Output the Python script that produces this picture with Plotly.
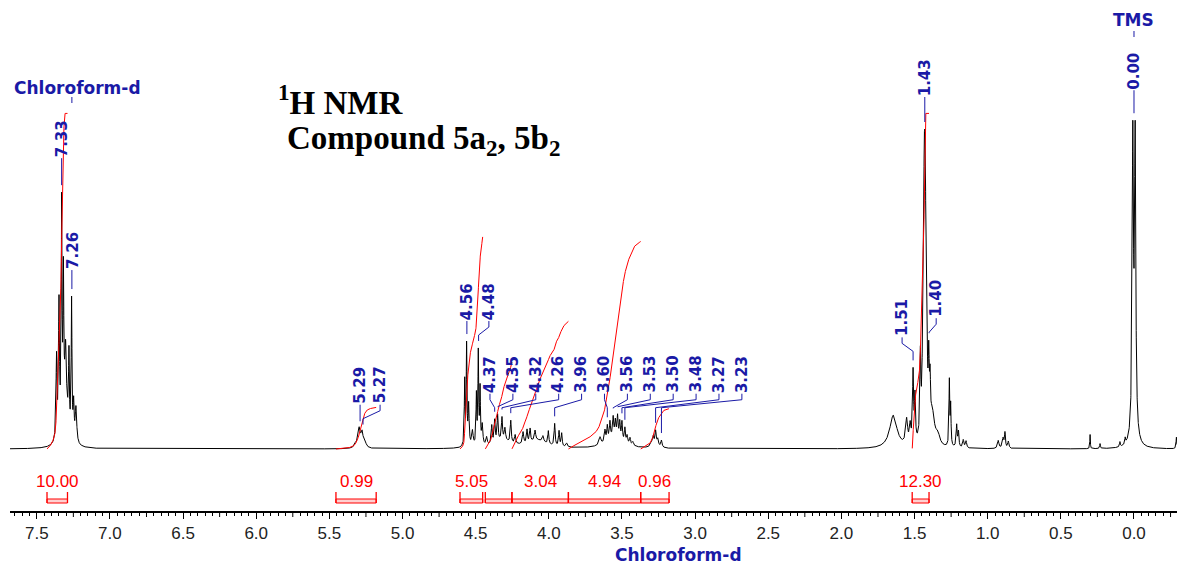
import numpy as np
import plotly.graph_objects as go

# ---------------------------------------------------------------- data
# Resolved lines of the 1H spectrum: shift (ppm), relative intensity (% of the
# tallest line) and half-width at half height (ppm).
peak_ppm = [
    7.365, 7.348, 7.330, 7.318, 7.303, 7.305, 7.280, 7.262, 7.248, 7.232,
    5.320, 5.297, 5.285, 5.276, 5.255,
    4.575, 4.562, 4.548, 4.522, 4.495, 4.482, 4.470, 4.455,
    4.425, 4.390, 4.370, 4.350, 4.320, 4.300, 4.260, 4.230, 4.176, 4.149,
    4.128, 4.094, 4.040, 4.003, 3.960, 3.930, 3.912, 3.878, 4.320, 4.080,
    3.650, 3.616, 3.600, 3.582, 3.560, 3.545, 3.530, 3.515, 3.500, 3.480,
    3.465, 3.445, 3.425, 3.550,
    3.300, 3.286, 3.270, 3.255, 3.230, 3.270,
    1.645, 1.554, 1.530, 1.510, 1.497, 1.460, 1.446, 1.434, 1.427, 1.417,
    1.403, 1.394, 1.380, 1.370, 1.340,
    1.262, 1.253, 1.212, 1.200, 1.167, 1.148,
    0.928, 0.895, 0.882, 0.859,
    0.300, 0.232, 0.096, 0.060, 0.008, -0.008, 0.000, -0.290,
]
peak_int = [
    25.0, 40.0, 66.0, 40.0, 12.0, 18.0, 22.0, 41.0, 10.6, 10.6,
    1.2, 4.9, 1.5, 3.6, 1.2,
    19.8, 30.4, 12.2, 4.6, 15.2, 28.0, 16.7, 6.1,
    2.4, 5.5, 6.7, 7.9, 6.7, 3.6, 6.7, 2.7, 3.6, 4.0,
    4.0, 3.0, 1.8, 4.0, 6.7, 4.6, 4.0, 1.2, 2.4, 2.4,
    2.4, 3.6, 4.3, 4.9, 5.5, 4.3, 6.1, 4.9, 5.5, 4.3,
    2.4, 2.1, 1.2, 4.0,
    1.2, 2.4, 3.6, 1.8, 2.1, 1.5,
    10.0, 7.6, 5.5, 21.3, 13.7, 24.0, 12.0, 62.0, 61.0, 30.0,
    20.0, 14.0, 6.0, 4.0, 3.0,
    19.8, 12.0, 6.7, 4.6, 2.4, 2.1,
    2.4, 3.0, 4.6, 2.1,
    4.3, 1.5, 1.5, 1.8, 87.0, 87.0, 6.0, 3.5,
]
peak_hw = [
    0.004, 0.004, 0.003, 0.003, 0.004, 0.020, 0.003, 0.003, 0.004, 0.006,
    0.010, 0.008, 0.020, 0.008, 0.010,
    0.003, 0.003, 0.004, 0.006, 0.003, 0.003, 0.003, 0.005,
    0.005, 0.004, 0.004, 0.004, 0.004, 0.005, 0.004, 0.005, 0.005, 0.004,
    0.004, 0.005, 0.006, 0.004, 0.004, 0.004, 0.004, 0.006, 0.070, 0.080,
    0.008, 0.005, 0.004, 0.004, 0.004, 0.004, 0.004, 0.004, 0.004, 0.004,
    0.005, 0.005, 0.006, 0.060,
    0.008, 0.005, 0.004, 0.005, 0.005, 0.020,
    0.030, 0.008, 0.006, 0.004, 0.004, 0.004, 0.004, 0.006, 0.006, 0.004,
    0.004, 0.004, 0.010, 0.020, 0.015,
    0.003, 0.003, 0.004, 0.004, 0.005, 0.005,
    0.006, 0.006, 0.004, 0.005,
    0.002, 0.003, 0.003, 0.003, 0.005, 0.005, 0.020, 0.003,
]

# Picked shifts printed above the trace
pick_ppm = [7.33, 7.26, 5.29, 5.27, 4.56, 4.48, 4.37, 4.35, 4.32, 4.26, 3.96,
            3.60, 3.56, 3.53, 3.50, 3.48, 3.27, 3.23, 1.51, 1.43, 1.40, 0.00]

# Integrated regions (ppm limits) and their integral values
int_from = [7.430, 5.455, 4.607, 4.434, 4.252, 3.866, 3.372, 1.516]
int_to = [7.290, 5.180, 4.452, 4.252, 3.866, 3.372, 3.178, 1.401]
int_value = [10.00, 0.99, 5.05, 2.07, 3.04, 4.94, 0.96, 12.30]

# Axis tick labels (ppm)
tick_labels = ["7.5", "7.0", "6.5", "6.0", "5.5", "5.0", "4.5", "4.0",
               "3.5", "3.0", "2.5", "2.0", "1.5", "1.0", "0.5", "0.0"]

# ---------------------------------------------------------------- layout
W, H = 1177, 566
ML, MR, MT, MB = 10, 0, 0, 55
PW, PH = W - ML - MR, H - MT - MB
X0, X1 = 7.683, -0.294            # ppm at left / right edge of the plot area
PX_PER_UNIT = 3.29                 # vertical pixels per intensity %
BASE_ROW = 449                     # pixel row of zero intensity
Y_RANGE = [-(PH - BASE_ROW) / PX_PER_UNIT, BASE_ROW / PX_PER_UNIT]
INT_PX = 42.0                      # pixels per integral unit
INT_CAP = 102.0                    # integral traces are clipped here (%)

BLUE = "#1a1aa6"
RED = "#ff0000"


def ppm2px(p):
    return ML + (X0 - p) / (X0 - X1) * PW


def px2ppm(x):
    return X0 - (x - ML) / PW * (X0 - X1)


def u(px):
    return px / PX_PER_UNIT


def paper_x(x):
    return (x - ML) / PW


def paper_y(y):
    return (PH + MT - y) / PH


# ---------------------------------------------------------------- trace
grid = np.arange(X1, X0, 0.0004)
spec = np.zeros_like(grid)
for p, h, w in zip(peak_ppm, peak_int, peak_hw):
    spec += h / (1.0 + ((grid - p) / w) ** 2)

fig = go.Figure()
fig.add_trace(go.Scatter(x=grid, y=spec, mode="lines",
                         line=dict(color="black", width=1),
                         hoverinfo="skip", showlegend=False))

# integral curves
for a, b, v in zip(int_from, int_to, int_value):
    m = (grid <= a) & (grid >= b)
    xs = grid[m][::-1]
    ys = spec[m][::-1]
    c = np.cumsum(ys)
    c = c / c[-1] * v * u(INT_PX)
    c = np.minimum(c, INT_CAP)
    fig.add_trace(go.Scatter(x=xs, y=c, mode="lines",
                             line=dict(color=RED, width=1),
                             hoverinfo="skip", showlegend=False))

shapes = []
annotations = []

# integral brackets and values (a value that would collide is not printed)
last_right = -1e9
for a, b, v in zip(int_from, int_to, int_value):
    shapes.append(dict(type="rect", xref="x", yref="y", x0=a, x1=b,
                       y0=u(BASE_ROW - 503), y1=u(BASE_ROW - 499),
                       line=dict(color=RED, width=1),
                       fillcolor="rgba(255,120,120,0.35)"))
    for e in (a, b):
        shapes.append(dict(type="line", xref="x", yref="y", x0=e, x1=e,
                           y0=u(BASE_ROW - 503), y1=u(BASE_ROW - 492),
                           line=dict(color=RED, width=1.3)))
    cx = ppm2px((a + b) / 2)
    half = 21
    if cx - half < last_right:
        continue
    last_right = cx + half
    annotations.append(dict(x=(a + b) / 2, y=u(BASE_ROW - 481), xref="x",
                            yref="y", text=f"{v:.2f}", showarrow=False,
                            font=dict(family="Liberation Sans", size=17,
                                      color=RED),
                            xanchor="center", yanchor="middle"))

# peak pick labels: groups share a label level and are spread sideways
groups = [  # (first, last+1, sideways shift px, step px, lift px)
    (0, 1, 0, 0, 34), (1, 2, 0.5, 0, 26), (2, 4, 0.5, 19.5, 22),
    (4, 6, 0, 22, 20), (6, 18, -4.7, 22.9, 20), (18, 19, -11, 0, 30),
    (19, 20, 0, 0, 32), (20, 21, 7, 0, 22), (21, 22, 0, 0, 30),
]


def local_max(p, half=0.01):
    m = (grid >= p - half) & (grid <= p + half)
    return float(spec[m].max())


lx_all, ly_all = [], []
for g0, g1, shift, step, lift in groups:
    members = pick_ppm[g0:g1]
    lo, hi = min(members) - 0.01, max(members) + 0.01
    m = (grid >= lo) & (grid <= hi)
    level = float(spec[m].max()) + u(lift)
    start = ppm2px(members[0]) + shift
    for k, p in enumerate(members):
        lx = start + k * step
        px = ppm2px(p)
        tip = local_max(p, 0.004 if g1 - g0 > 1 else 0.01) + u(7)
        annotations.append(dict(x=px2ppm(lx), y=level, xref="x", yref="y",
                                text=f"{p:.2f}", textangle=-90,
                                showarrow=False, xanchor="center",
                                yanchor="bottom", borderpad=0,
                                font=dict(family="DejaVu Sans", size=15,
                                          color=BLUE, weight=700)))
        if abs(lx - px) < 1.5:
            lx_all += [p, p, None]
            ly_all += [level, tip, None]
        else:
            e1 = level - u(6)
            e2 = max(e1 - u(8), tip)
            lx_all += [px2ppm(lx), px2ppm(lx), p, p, None]
            ly_all += [level, e1, e2, tip, None]

fig.add_trace(go.Scatter(x=lx_all, y=ly_all, mode="lines",
                         line=dict(color=BLUE, width=1),
                         hoverinfo="skip", showlegend=False))

# solvent and reference captions
annotations.append(dict(x=paper_x(77.5), y=paper_y(88), xref="paper",
                        yref="paper", text="Chloroform-d", showarrow=False,
                        xanchor="center", yanchor="middle",
                        font=dict(family="DejaVu Sans", size=17, color=BLUE,
                                  weight=700)))
shapes.append(dict(type="line", xref="x", yref="paper", x0=7.26, x1=7.26,
                   y0=paper_y(97), y1=paper_y(103),
                   line=dict(color=BLUE, width=1)))
annotations.append(dict(x=0.0, y=paper_y(20), xref="x", yref="paper",
                        text="TMS", showarrow=False, xanchor="center",
                        yanchor="middle",
                        font=dict(family="DejaVu Sans", size=17, color=BLUE,
                                  weight=700)))
shapes.append(dict(type="line", xref="x", yref="paper", x0=0.0, x1=0.0,
                   y0=paper_y(31), y1=paper_y(37),
                   line=dict(color=BLUE, width=1)))
annotations.append(dict(x=px2ppm(678), y=paper_y(555), xref="x",
                        yref="paper", text="Chloroform-d", showarrow=False,
                        xanchor="center", yanchor="middle",
                        font=dict(family="DejaVu Sans", size=17, color=BLUE,
                                  weight=700)))

# title block
serif = dict(family="Liberation Serif", size=33, color="black", weight=700)
annotations.append(dict(x=paper_x(276), y=paper_y(100), xref="paper",
                        yref="paper", text="<sup>1</sup>H NMR",
                        showarrow=False, xanchor="left", yanchor="middle",
                        font=serif))
annotations.append(dict(x=paper_x(285), y=paper_y(140), xref="paper",
                        yref="paper",
                        text="Compound 5a<sub>2</sub>, 5b<sub>2</sub>",
                        showarrow=False, xanchor="left", yanchor="middle",
                        font=serif))

# ---------------------------------------------------------------- axes
tickvals = [round(7.5 - 0.5 * i, 2) for i in range(16)]
# quarter-ppm ticks between the labelled ones
for i in range(16):
    q = round(7.25 - 0.5 * i, 2)
    if q > X1:
        shapes.append(dict(type="line", xref="x", yref="paper", x0=q, x1=q,
                           y0=0, y1=-6 / PH, line=dict(color="black",
                                                        width=1)))
minor_vals = [round(7.65 - 0.05 * i, 2) for i in range(160)]
minor_vals = [v for v in minor_vals if v > X1 and
              abs(v / 0.25 - round(v / 0.25)) > 1e-6]

fig.update_layout(
    width=W, height=H, autosize=False,
    margin=dict(l=ML, r=MR, t=MT, b=MB, pad=0),
    paper_bgcolor="white", plot_bgcolor="white",
    showlegend=False, hovermode=False,
    shapes=shapes, annotations=annotations,
    xaxis=dict(range=[X0, X1], showline=True, linecolor="black",
               linewidth=2, ticks="outside", tickvals=tickvals,
               ticktext=tick_labels, ticklen=6, tickwidth=1,
               tickcolor="black", showgrid=False, zeroline=False,
               tickfont=dict(family="Liberation Sans", size=17,
                             color="#222222"),
               minor=dict(tickvals=minor_vals, ticks="outside", ticklen=3,
                          tickwidth=1, tickcolor="black", showgrid=False),
               fixedrange=True),
    yaxis=dict(range=Y_RANGE, visible=False, fixedrange=True),
)

fig.write_html("out.html")
